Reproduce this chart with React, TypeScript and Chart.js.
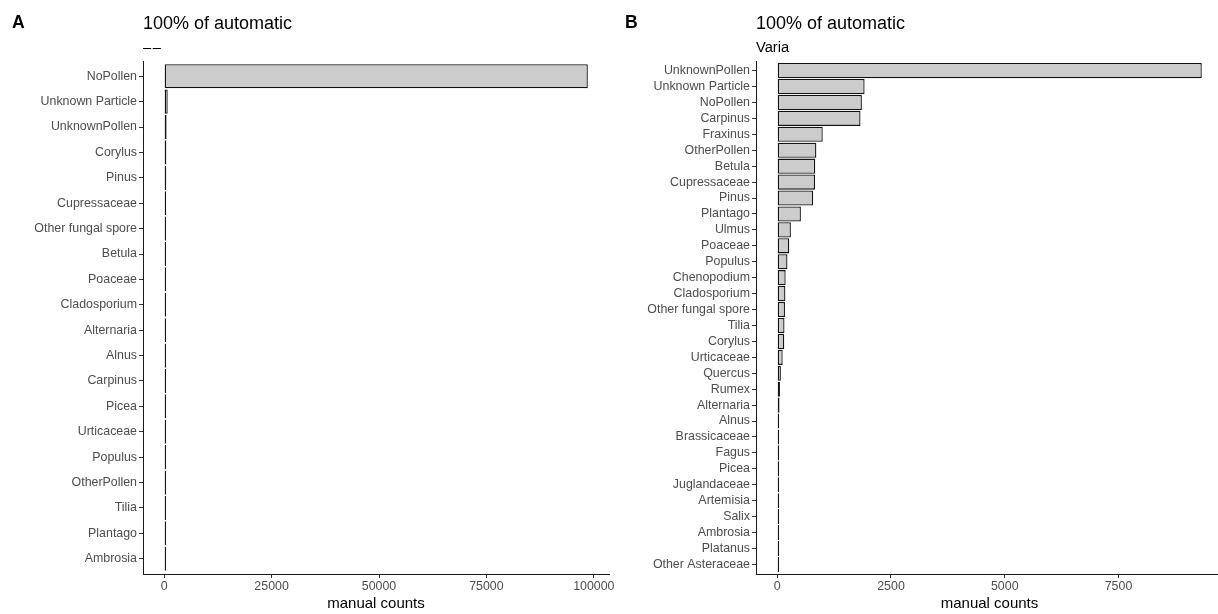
import React, { useEffect, useRef } from "react";
import { Chart, registerables } from "chart.js";

Chart.register(...registerables);

const FONT = "'Liberation Sans', Arial, Helvetica, sans-serif";

const categoriesA = [
  "NoPollen", "Unknown Particle", "UnknownPollen", "Corylus", "Pinus", "Cupressaceae",
  "Other fungal spore", "Betula", "Poaceae", "Cladosporium", "Alternaria", "Alnus",
  "Carpinus", "Picea", "Urticaceae", "Populus", "OtherPollen", "Tilia", "Plantago", "Ambrosia",
];
const countsA = [98600, 820, 560, 500, 480, 460, 110, 95, 85, 75, 65, 55, 50, 45, 40, 35, 30, 25, 20, 15];
const ticksA = [0, 25000, 50000, 75000, 100000];

const categoriesB = [
  "UnknownPollen", "Unknown Particle", "NoPollen", "Carpinus", "Fraxinus", "OtherPollen",
  "Betula", "Cupressaceae", "Pinus", "Plantago", "Ulmus", "Poaceae", "Populus", "Chenopodium",
  "Cladosporium", "Other fungal spore", "Tilia", "Corylus", "Urticaceae", "Quercus", "Rumex",
  "Alternaria", "Alnus", "Brassicaceae", "Fagus", "Picea", "Juglandaceae", "Artemisia", "Salix",
  "Ambrosia", "Platanus", "Other Asteraceae",
];
const countsB = [
  9330, 1920, 1860, 1830, 1000, 860, 835, 830, 790, 520, 300, 265, 225, 185, 180, 170, 160, 155,
  120, 80, 60, 50, 30, 25, 14, 12, 10, 8, 7, 5, 4, 3,
];
const ticksB = [0, 2500, 5000, 7500];

const headerPlugin = {
  id: "header",
  afterDraw(chart: any, _args: any, opts: any) {
    const ctx = chart.ctx as any;
    const left = chart.chartArea.left;
    ctx.save();
    ctx.fillStyle = "#000";
    ctx.textAlign = "left";
    ctx.textBaseline = "alphabetic";
    ctx.font = `bold 17.6px ${FONT}`;
    ctx.fillText(opts.tag, opts.tagX, 28);
    ctx.font = `18px ${FONT}`;
    ctx.fillText(opts.title, left, 29);
    ctx.font = `14.7px ${FONT}`;
    if (opts.subtitleSpacing) ctx.letterSpacing = opts.subtitleSpacing;
    ctx.fillText(opts.subtitle, left, 52);
    ctx.restore();
  },
};

type PanelCfg = {
  tag: string;
  tagX: number;
  title: string;
  subtitle: string;
  subtitleSpacing?: string;
  left: number;
  width: number;
  yAxisWidth: number;
  padRight: number;
  categories: string[];
  counts: number[];
  ticks: number[];
};

function Panel({ cfg }: { cfg: PanelCfg }) {
  const ref = useRef<HTMLCanvasElement>(null);
  useEffect(() => {
    const maxV = Math.max(...cfg.counts);
    const n = cfg.categories.length;
    const chart = new Chart(ref.current as HTMLCanvasElement, {
      type: "bar",
      data: {
        datasets: [
          {
            data: cfg.counts.map((v, i) => ({ x: v, y: i })),
            backgroundColor: "#CCCCCC",
            borderColor: "#111111",
            borderWidth: 1.3,
            borderSkipped: false,
            minBarLength: 1.8,
            barPercentage: 0.95,
            categoryPercentage: 1,
          } as any,
        ],
      },
      plugins: [headerPlugin as any],
      options: {
        animation: false,
        responsive: false,
        indexAxis: "y",
        layout: { padding: { top: 61, right: cfg.padRight, bottom: 0, left: 0 } },
        plugins: {
          legend: { display: false },
          tooltip: { enabled: false },
          header: {
            tag: cfg.tag,
            tagX: cfg.tagX,
            title: cfg.title,
            subtitle: cfg.subtitle,
            subtitleSpacing: cfg.subtitleSpacing,
          },
        } as any,
        scales: {
          y: {
            type: "linear",
            reverse: true,
            offset: false,
            min: -0.6,
            max: n - 0.4,
            afterBuildTicks: (scale: any) => {
              scale.ticks = cfg.categories.map((_, i) => ({ value: i }));
            },
            afterFit: (scale: any) => {
              scale.width = cfg.yAxisWidth;
            },
            ticks: {
              autoSkip: false,
              padding: 2,
              color: "#4D4D4D",
              font: { family: FONT, size: 12.4 },
              callback: (v: any) => cfg.categories[Number(v)] ?? "",
            },
            grid: {
              offset: false,
              drawOnChartArea: false,
              drawTicks: true,
              tickLength: 4,
              tickColor: "#333333",
              color: "#333333",
            },
            border: { display: true, color: "#1a1a1a", width: 1 },
          },
          x: {
            type: "linear",
            offset: false,
            min: -0.05 * maxV,
            max: 1.05 * maxV,
            afterBuildTicks: (scale: any) => {
              scale.ticks = cfg.ticks.map((v) => ({ value: v }));
            },
            afterFit: (scale: any) => {
              scale.height = 40;
            },
            ticks: {
              autoSkip: false,
              maxRotation: 0,
              padding: 1,
              color: "#4D4D4D",
              font: { family: FONT, size: 12.4 },
              callback: (v: any) => String(v),
            },
            grid: {
              offset: false,
              drawOnChartArea: false,
              drawTicks: true,
              tickLength: 4,
              tickColor: "#333333",
              color: "#333333",
            },
            border: { display: true, color: "#1a1a1a", width: 1 },
            title: {
              display: true,
              text: "manual counts",
              color: "#000",
              font: { family: FONT, size: 15 },
              padding: { top: 0, bottom: 1 },
            },
          },
        },
      } as any,
    });
    return () => chart.destroy();
  }, [cfg]);
  return (
    <canvas
      ref={ref}
      width={cfg.width}
      height={614}
      style={{ position: "absolute", left: cfg.left, top: 0, width: cfg.width, height: 614, display: "block" }}
    />
  );
}

const panelA: PanelCfg = {
  tag: "A",
  tagX: 12,
  title: "100% of automatic",
  subtitle: "––",
  subtitleSpacing: "1.5px",
  left: 0,
  width: 640,
  yAxisWidth: 143,
  padRight: 31,
  categories: categoriesA,
  counts: countsA,
  ticks: ticksA,
};

const panelB: PanelCfg = {
  tag: "B",
  tagX: 15,
  title: "100% of automatic",
  subtitle: "Varia",
  left: 610,
  width: 613,
  yAxisWidth: 146,
  padRight: 0,
  categories: categoriesB,
  counts: countsB,
  ticks: ticksB,
};

export default function App() {
  return (
    <div
      style={{
        position: "absolute",
        left: 0,
        top: 0,
        width: 1218,
        height: 614,
        overflow: "hidden",
        background: "#fff",
      }}
    >
      <Panel cfg={panelA} />
      <Panel cfg={panelB} />
    </div>
  );
}
